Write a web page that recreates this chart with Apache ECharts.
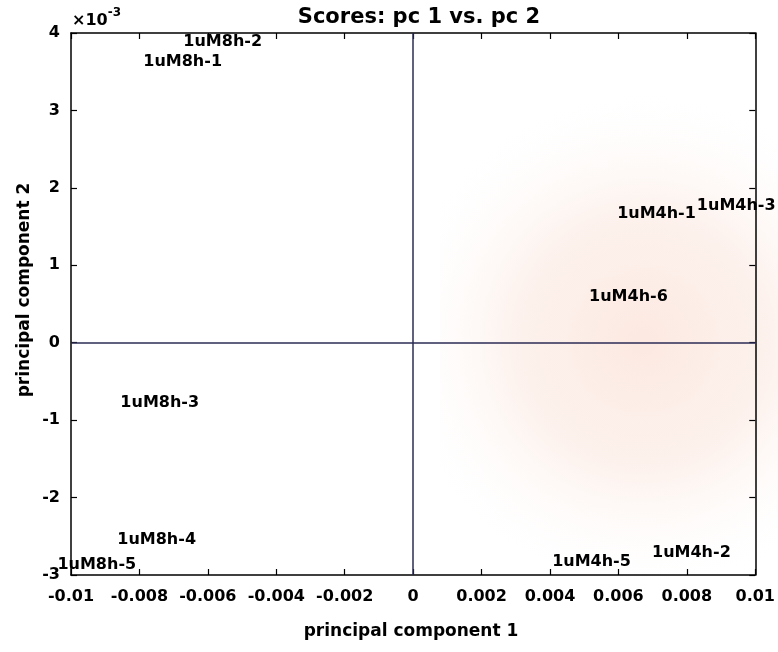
<!DOCTYPE html>
<html><head><meta charset="utf-8">
<script src="https://cdn.jsdelivr.net/npm/echarts@6/dist/echarts.min.js"></script>
<style>html,body{margin:0;padding:0;background:#fff}#c{width:778px;height:652px}</style>
</head><body><div id="c"></div>
<script>
// Data (pc2 values are in units of 1e-3, as on the axis "x10^-3")
const sampleNames = ['1uM8h-1','1uM8h-2','1uM8h-3','1uM8h-4','1uM8h-5','1uM4h-1','1uM4h-2','1uM4h-3','1uM4h-5','1uM4h-6'];
const pc1 =    [-0.00796, -0.00679, -0.00863, -0.00872, -0.01047, 0.00589, 0.00691, 0.00822, 0.00399, 0.00507];
const pc2_e3 = [3.63, 3.88, -0.78, -2.55, -2.87, 1.66, -2.72, 1.77, -2.83, 0.59];
const xTickValues = [-0.01,-0.008,-0.006,-0.004,-0.002,0,0.002,0.004,0.006,0.008,0.01];
const xTickLabels = ['-0.01','-0.008','-0.006','-0.004','-0.002','0','0.002','0.004','0.006','0.008','0.01'];
const yTickValues = [-3,-2,-1,0,1,2,3,4];
const yTickLabels = ['-3','-2','-1','0','1','2','3','4'];

const FONT = 'DejaVu Sans';
function lookup(vals, labs, v){
  let bi = 0, bd = Infinity;
  vals.forEach((t,i)=>{ const d = Math.abs(t - v); if (d < bd){bd = d; bi = i;} });
  return bd < 1e-9 ? labs[bi] : '';
}
const points = sampleNames.map((n,i)=>({name:n, value:[pc1[i], pc2_e3[i]]}));

const chart = echarts.init(document.getElementById('c'));
const axisLineStyle = {color:'#000', width:1.5};
chart.setOption({
  backgroundColor:'#fff',
  animation:false,
  title:{text:'Scores: pc 1 vs. pc 2', left:414, textAlign:'center', top:2,
    textStyle:{fontFamily:FONT, fontWeight:'bold', fontSize:21, color:'#000'}},
  grid:{left:71, right:21, top:33, bottom:77, containLabel:false},
  graphic:[
    {type:'rect', z:-10, silent:true, shape:{x:440, y:30, width:338, height:622},
     style:{fill:new echarts.graphic.RadialGradient(0.6,0.5,0.75,[
       {offset:0,color:'rgba(250,218,205,0.6)'},
       {offset:0.5,color:'rgba(250,225,214,0.45)'},
       {offset:1,color:'rgba(255,255,255,0)'}])}},
    {type:'text', left:72, top:7, silent:true,
     style:{text:'{b|×10}{s|-3}', fill:'#000',
       rich:{b:{fontFamily:FONT, fontSize:16, fontWeight:'bold', color:'#000', padding:[6,0,0,0]},
             s:{fontFamily:FONT, fontSize:12, fontWeight:'bold', color:'#000', verticalAlign:'top'}}}},
    {type:'text', x:25, y:290, rotation:Math.PI/2, silent:true,
     style:{text:'principal component 2', fontFamily:FONT, fontSize:17, fontWeight:'bold', fill:'#000', align:'center', verticalAlign:'middle'}},
    {type:'text', x:411, y:632, silent:true,
     style:{text:'principal component 1', fontFamily:FONT, fontSize:17, fontWeight:'bold', fill:'#000', align:'center', verticalAlign:'middle'}}
  ],
  xAxis:[
    {type:'value', min:-0.01, max:0.01, interval:0.002, position:'bottom',
     axisLine:{show:true, onZero:false, lineStyle:axisLineStyle},
     axisTick:{show:true, inside:true, length:6, lineStyle:{color:'#000', width:1.2}},
     splitLine:{show:false},
     axisLabel:{margin:14, fontFamily:FONT, fontSize:16, fontWeight:'bold', color:'#000',
       formatter:v=>lookup(xTickValues, xTickLabels, v)}},
    {type:'value', min:-0.01, max:0.01, interval:0.002, position:'top',
     axisLine:{show:true, onZero:false, lineStyle:axisLineStyle},
     axisTick:{show:true, inside:true, length:6, lineStyle:{color:'#000', width:1.2}},
     splitLine:{show:false}, axisLabel:{show:false}}
  ],
  yAxis:[
    {type:'value', min:-3, max:4, interval:1, position:'left',
     axisLine:{show:true, onZero:false, lineStyle:axisLineStyle},
     axisTick:{show:true, inside:true, length:6, lineStyle:{color:'#000', width:1.2}},
     splitLine:{show:false},
     axisLabel:{margin:11, fontFamily:FONT, fontSize:16, fontWeight:'bold', color:'#000',
       formatter:v=>lookup(yTickValues, yTickLabels, v)}},
    {type:'value', min:-3, max:4, interval:1, position:'right',
     axisLine:{show:true, onZero:false, lineStyle:axisLineStyle},
     axisTick:{show:true, inside:true, length:6, lineStyle:{color:'#000', width:1.2}},
     splitLine:{show:false}, axisLabel:{show:false}}
  ],
  series:[{
    type:'scatter', xAxisIndex:0, yAxisIndex:0, clip:false,
    symbol:'circle', symbolSize:1, itemStyle:{color:'rgba(0,0,0,0)'},
    data:points,
    label:{show:true, position:'right', distance:2, formatter:'{b}',
      fontFamily:FONT, fontSize:16, fontWeight:'bold', color:'#000', opacity:1},
    labelLayout:{hideOverlap:false},
    markLine:{silent:true, symbol:'none', label:{show:false},
      lineStyle:{color:'#2b2b55', width:1.5, type:'solid'},
      data:[{xAxis:0},{yAxis:0}]}
  }]
});
</script></body></html>
